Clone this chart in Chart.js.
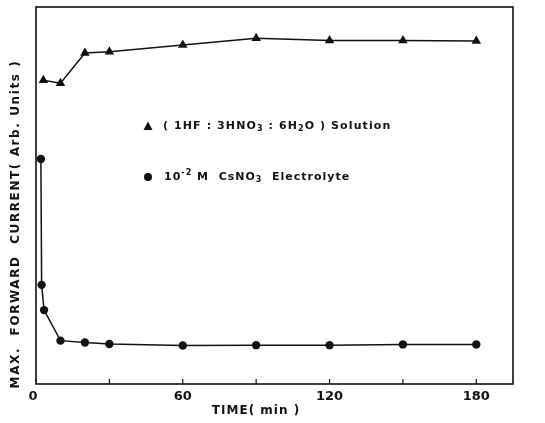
<!DOCTYPE html>
<html>
<head>
<meta charset="utf-8">
<script src="https://cdn.jsdelivr.net/npm/chart.js@4.4.0/dist/chart.umd.min.js"></script>
<style>
  html, body { margin: 0; padding: 0; background: #fff; }
  #wrap { width: 545px; height: 423px; }
</style>
</head>
<body>
<div id="wrap"><canvas id="c" width="545" height="423"></canvas></div>
<script>
// Etching in (1HF:3HNO3:6H2O) solution vs. 10^-2 M CsNO3 electrolyte
const solutionTimes = [3, 10, 20, 30, 60, 90, 120, 150, 180];
const solutionCurrent = [80.6, 79.8, 87.8, 88.1, 89.9, 91.7, 91.1, 91.1, 91.0];
const electrolyteTimes = [2, 2.3, 3.3, 10, 20, 30, 60, 90, 120, 150, 180];
const electrolyteCurrent = [59.7, 26.3, 19.6, 11.5, 11.0, 10.6, 10.2, 10.3, 10.3, 10.5, 10.5];
const xTicks = [0, 30, 60, 90, 120, 150, 180];
const xTickLabels = ['0', '', '60', '', '120', '', '180'];
const xTitle = 'TIME( min )';
const yTitle = 'MAX.  FORWARD  CURRENT( Arb. Units )';

const INK = '#111';
const FAMILY = '"DejaVu Sans", "Liberation Sans", Arial, sans-serif';

function toPoints(xs, ys) { return xs.map((x, i) => ({ x: x, y: ys[i] })); }

// draws a run of text pieces; pieces flagged sub/sup are smaller and shifted
function richText(ctx, x, y, parts, size, spacing) {
  let cx = x;
  parts.forEach(p => {
    const s = p.sub || p.sup ? Math.round(size * 0.72) : size;
    ctx.font = 'bold ' + s + 'px ' + FAMILY;
    ctx.letterSpacing = spacing + 'px';
    const dy = p.sub ? size * 0.28 : (p.sup ? -size * 0.4 : 0);
    ctx.fillText(p.t, cx, y + dy);
    cx += ctx.measureText(p.t).width;
  });
}

const decor = {
  id: 'decor',
  afterDraw(chart) {
    const ctx = chart.ctx;
    const a = chart.chartArea;
    const xs = chart.scales.x;
    ctx.save();
    ctx.strokeStyle = INK;
    ctx.fillStyle = INK;

    // frame
    ctx.lineWidth = 1.6;
    ctx.strokeRect(a.left, a.top, a.right - a.left, a.bottom - a.top);

    // inward ticks and labels on the time axis
    ctx.lineWidth = 1.2;
    ctx.textAlign = 'center';
    ctx.textBaseline = 'middle';
    xTicks.forEach((v, i) => {
      const px = xs.getPixelForValue(v);
      ctx.beginPath();
      ctx.moveTo(px, a.bottom);
      ctx.lineTo(px, a.bottom - 5);
      ctx.stroke();
      if (xTickLabels[i]) {
        ctx.font = 'bold 13px ' + FAMILY;
        ctx.letterSpacing = '0px';
        ctx.fillText(xTickLabels[i], px - (v === 0 ? 3 : 0), a.bottom + 13);
      }
    });

    // axis titles
    ctx.font = 'bold 12px ' + FAMILY;
    ctx.letterSpacing = '1px';
    ctx.fillText(xTitle, 256, 411);
    ctx.save();
    ctx.translate(16, 224);
    ctx.rotate(-Math.PI / 2);
    ctx.letterSpacing = '1.6px';
    ctx.fillText(yTitle, 0, 0);
    ctx.restore();

    // key
    ctx.textAlign = 'left';
    ctx.textBaseline = 'middle';
    ctx.beginPath();
    ctx.moveTo(148, 121.5);
    ctx.lineTo(152.5, 130);
    ctx.lineTo(143.5, 130);
    ctx.closePath();
    ctx.fill();
    richText(ctx, 163, 126, [
      { t: '( 1HF : 3HNO' }, { t: '3', sub: true }, { t: ' : 6H' }, { t: '2', sub: true },
      { t: 'O ) Solution' }
    ], 11, 1.1);

    ctx.beginPath();
    ctx.arc(148, 177, 4, 0, Math.PI * 2);
    ctx.fill();
    richText(ctx, 164, 177, [
      { t: '10' }, { t: '-2', sup: true }, { t: ' M  CsNO' }, { t: '3', sub: true },
      { t: '  Electrolyte' }
    ], 11, 1);
    ctx.restore();
  }
};

new Chart(document.getElementById('c'), {
  type: 'scatter',
  data: {
    datasets: [
      {
        label: '(1HF:3HNO3:6H2O) Solution',
        data: toPoints(solutionTimes, solutionCurrent),
        showLine: true,
        borderColor: INK,
        backgroundColor: INK,
        borderWidth: 1.5,
        pointStyle: 'triangle',
        pointRadius: 5.5,
        pointBorderWidth: 0,
        clip: false
      },
      {
        label: '10-2 M CsNO3 Electrolyte',
        data: toPoints(electrolyteTimes, electrolyteCurrent),
        showLine: true,
        borderColor: INK,
        backgroundColor: INK,
        borderWidth: 1.5,
        pointStyle: 'circle',
        pointRadius: 4.2,
        pointBorderWidth: 0,
        clip: false
      }
    ]
  },
  options: {
    responsive: false,
    devicePixelRatio: 1,
    animation: false,
    layout: { padding: { left: 36, top: 7, right: 32, bottom: 39 } },
    plugins: { legend: { display: false }, tooltip: { enabled: false } },
    scales: {
      x: { type: 'linear', min: 0, max: 195, display: false },
      y: { type: 'linear', min: 0, max: 100, display: false }
    }
  },
  plugins: [decor]
});
</script>
</body>
</html>
